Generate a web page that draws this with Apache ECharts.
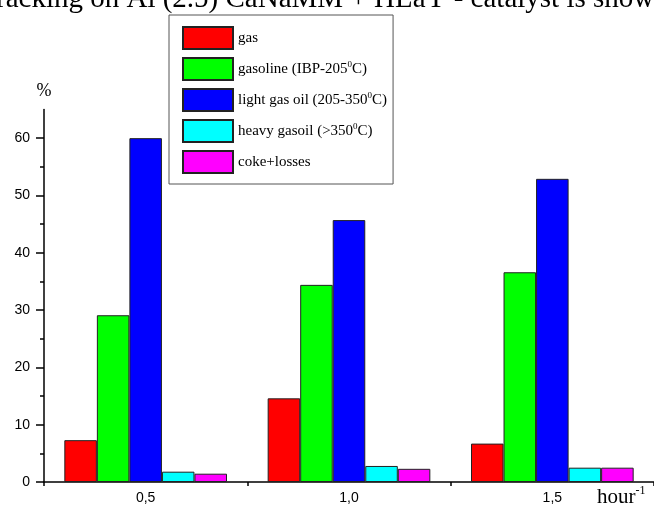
<!DOCTYPE html>
<html>
<head>
<meta charset="utf-8">
<script src="https://cdn.jsdelivr.net/npm/echarts@6/dist/echarts.min.js"></script>
<style>
  html, body { margin: 0; padding: 0; background: #fff; }
  #chart { width: 654px; height: 509px; }
</style>
</head>
<body>
<div id="chart"></div>
<script>
// space velocity (hour^-1)
var categories = ['0,5', '1,0', '1,5'];
var seriesNames = ['gas', 'gasoline (IBP-205⁰C)', 'light gas oil (205-350⁰C)', 'heavy gasoil (>350⁰C)', 'coke+losses'];
var gas = [7.3, 14.6, 6.7];
var gasoline = [29.1, 34.4, 36.6];
var lightGasOil = [60.0, 45.7, 52.9];
var heavyGasoil = [1.8, 2.8, 2.5];
var cokeLosses = [1.45, 2.3, 2.5];
var colors = ['#ff0000', '#00ff00', '#0000ff', '#00ffff', '#ff00ff'];
var majorTicks = [0, 10, 20, 30, 40, 50, 60];
var minorTicks = [5, 15, 25, 35, 45, 55];

var serif = 'Liberation Serif';
var sans = 'Liberation Sans';

var chart = echarts.init(document.getElementById('chart'));

var values = [gas, gasoline, lightGasOil, heavyGasoil, cokeLosses];
var series = [];
for (var i = 0; i < values.length; i++) {
  series.push({
    name: seriesNames[i],
    type: 'bar',
    data: values[i],
    barGap: '0%',
    barCategoryGap: '20%',
    itemStyle: { color: colors[i], borderColor: '#222', borderWidth: 1 }
  });
}

var option = {
  backgroundColor: '#fff',
  animation: false,
  title: {
    text: 'racking on Al (2.5) CaNaMM + HLaY - catalyst is shown',
    left: -4,
    top: -15,
    padding: 0,
    textStyle: { fontFamily: serif, fontSize: 29, fontWeight: 'normal', color: '#000' }
  },
  legend: {
    orient: 'vertical',
    left: 169,
    top: 15,
    padding: [11, 6, 10, 13],
    icon: 'rect',
    itemWidth: 50,
    itemHeight: 22,
    itemGap: 7,
    backgroundColor: '#fff',
    borderColor: '#555',
    borderWidth: 1,
    borderRadius: 0,
    selectedMode: false,
    formatter: function (name) {
      return name.replace(/⁰/g, '{s|0}');
    },
    textStyle: {
      fontFamily: serif, fontSize: 15, lineHeight: 18, color: '#000',
      rich: { s: { fontFamily: serif, fontSize: 9, verticalAlign: 'top', lineHeight: 9, padding: [0, 0, 6, 0] } }
    }
  },
  grid: { left: 44, right: -2, top: 109.5, bottom: 27 },
  xAxis: {
    type: 'category',
    data: categories,
    name: 'hour{s|-1}',
    nameLocation: 'end',
    nameGap: -57,
    nameTextStyle: {
      fontFamily: serif, fontSize: 21, color: '#000', verticalAlign: 'top', padding: [3, 0, 0, 0],
      rich: { s: { fontFamily: serif, fontSize: 12, verticalAlign: 'top', padding: [0, 0, 12, 0] } }
    },
    axisLine: { lineStyle: { color: '#000', width: 1.5 } },
    axisTick: { show: true, length: 4, lineStyle: { color: '#000', width: 1.5 } },
    axisLabel: { fontFamily: sans, fontSize: 14, color: '#000', margin: 9 },
    splitLine: { show: false }
  },
  yAxis: [{
    type: 'value',
    min: 0,
    max: 65,
    interval: 10,
    name: '%',
    nameGap: 9,
    nameTextStyle: { fontFamily: serif, fontSize: 18, color: '#000' },
    axisLine: { show: true, lineStyle: { color: '#000', width: 1.5 } },
    axisTick: { show: true, length: 8, customValues: majorTicks, lineStyle: { color: '#000', width: 1.5 } },
    axisLabel: { fontFamily: sans, fontSize: 14, color: '#000', margin: 14, customValues: majorTicks },
    splitLine: { show: false }
  }, {
    type: 'value',
    min: 0,
    max: 65,
    position: 'left',
    axisLine: { show: false },
    axisTick: { show: true, length: 4, customValues: minorTicks, lineStyle: { color: '#000', width: 1.5 } },
    axisLabel: { show: false },
    splitLine: { show: false }
  }],
  series: series
};

chart.setOption(option);
</script>
</body>
</html>
